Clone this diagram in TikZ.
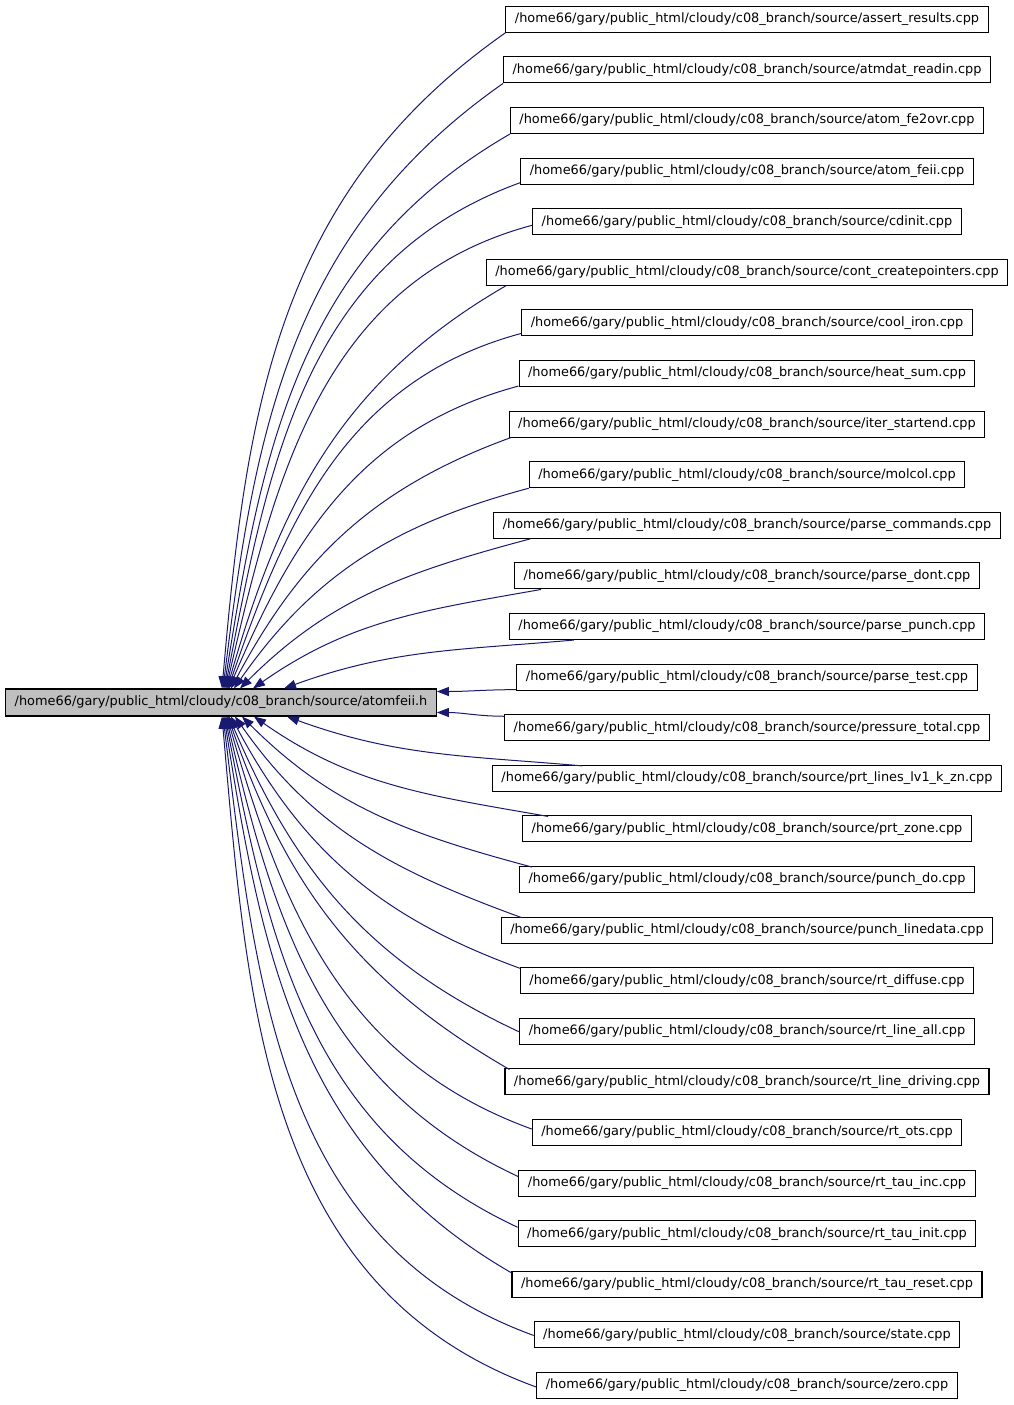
\documentclass[tikz,border=0pt]{standalone}
\usepackage{fontspec}
\setmainfont{DejaVu Sans}
\usetikzlibrary{arrows.meta,calc}
\definecolor{edgeblue}{HTML}{191970}
\definecolor{mainfill}{HTML}{BFBFBF}
\newcommand{\srcdir}{/home66/gary/public\_html/cloudy/c08\_branch/source/}

\begin{document}
\begin{tikzpicture}[x=1pt,y=1pt,
    file/.style={draw=black,line width=1.1pt,minimum height=26pt,inner xsep=9pt,
      inner ysep=0pt,font=\fontsize{12.9}{14}\selectfont},
    dep/.style={draw=edgeblue,line width=1pt,-{Triangle[length=12pt,width=9pt]}}]
    \useasboundingbox (0,0) rectangle (1013,-1405);

    \node[file,fill=mainfill,minimum height=27pt] (main) at (221,-702.5) {\srcdir atomfeii.h};

    % files that include it
    \foreach \n/\f in {1/assert\_results.cpp,2/atmdat\_readin.cpp,3/atom\_fe2ovr.cpp,
      4/atom\_feii.cpp,5/cdinit.cpp,6/cont\_createpointers.cpp,7/cool\_iron.cpp,
      8/heat\_sum.cpp,9/iter\_startend.cpp,10/molcol.cpp,11/parse\_commands.cpp,
      12/parse\_dont.cpp,13/parse\_punch.cpp,14/parse\_test.cpp,15/pressure\_total.cpp,
      16/prt\_lines\_lv1\_k\_zn.cpp,17/prt\_zone.cpp,18/punch\_do.cpp,
      19/punch\_linedata.cpp,20/rt\_diffuse.cpp,21/rt\_line\_all.cpp,
      22/rt\_line\_driving.cpp,23/rt\_ots.cpp,24/rt\_tau\_inc.cpp,25/rt\_tau\_init.cpp,
      26/rt\_tau\_reset.cpp,27/state.cpp,28/zero.cpp}
      \node[file] (t\n) at (747,{-19.3-50.6*(\n-1)}) {\srcdir\f};

    % edges: start offset from south west, end anchor on main, angles
    \foreach \n/\sx/\sy/\e/\ex/\ey/\o/\i in {
      1/0/0/north/1/0/215/85, 2/0/0/north/2/0/215/83, 3/0/0/north/3/0/210/81,
      4/0/2/north/4/0/200/79, 5/0/10/north/5/0/195/77, 6/20/0/north/6/0/210/74,
      7/0/3/north/7/0/195/71, 8/0/1/north/8/0/195/67, 9/2/0/north/10/0/200/62,
      10/0/0/north/13/0/195/55, 11/37/0/north/19/0/195/45, 12/27/0/north/32/0/190/35,
      13/65/0/north/63/0/185/20, 14/0/1/east/0/11/180/0, 15/0/25/east/0/-10/180/0,
      16/90/26/south/66/0/175/-20, 17/26/26/south/33/0/170/-35,
      18/13/26/south/21/0/165/-45, 19/21/26/south/14/0/160/-55,
      20/0/26/south/10/0/160/-62, 21/0/13/south/8/0/155/-67,
      22/5/26/south/7/0/150/-71, 23/0/17/south/6/0/160/-74,
      24/0/20/south/5/0/155/-77, 25/0/20/south/4/0/155/-79,
      26/0/25/south/3/0/150/-81, 27/0/13/south/2/0/160/-83,
      28/0/12/south/1/0/160/-85}
      \draw[dep] ($(t\n.south west)+(\sx,\sy)$) to[out=\o,in=\i] ($(main.\e)+(\ex,\ey)$);
\end{tikzpicture}
\end{document}
